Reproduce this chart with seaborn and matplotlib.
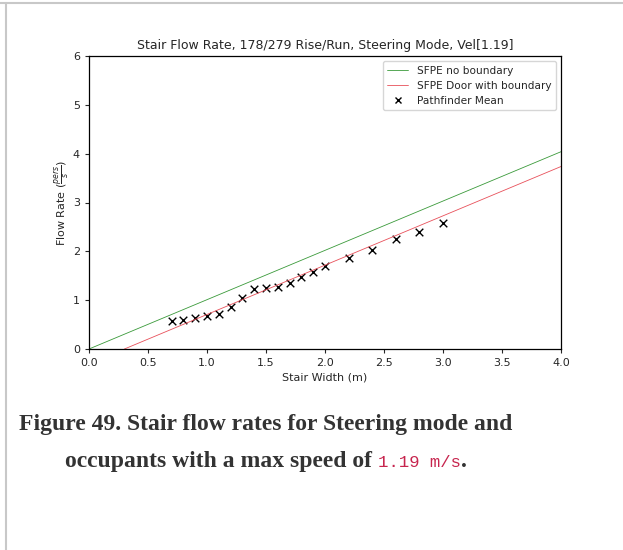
import matplotlib
matplotlib.use("Agg")
import matplotlib.pyplot as plt
import seaborn as sns
import pandas as pd
from matplotlib.lines import Line2D

# -----------------------------
# Data
# -----------------------------
stair_width = [0.7, 0.8, 0.9, 1.0, 1.1, 1.2, 1.3, 1.4, 1.5, 1.6,
               1.7, 1.8, 1.9, 2.0, 2.2, 2.4, 2.6, 2.8, 3.0]
pathfinder_mean = [0.575, 0.59, 0.64, 0.68, 0.72, 0.855, 1.04, 1.225, 1.245, 1.265,
                   1.355, 1.48, 1.58, 1.70, 1.855, 2.03, 2.25, 2.40, 2.57]

sfpe_width = [0.0, 4.0]
sfpe_no_boundary = [0.0, 4.04]
sfpe_door_width = [0.3, 4.0]
sfpe_door_boundary = [0.0, 3.737]

title = "Stair Flow Rate, 178/279 Rise/Run, Steering Mode, Vel[1.19]"
caption_line1 = "Figure 49. Stair flow rates for Steering mode and"
caption_line2 = ["occupants with a max speed of ", "1.19 m/s", "."]

# -----------------------------
# Figure
# -----------------------------
sns.set_style("ticks")
plt.rcParams["font.family"] = ["DejaVu Sans"]

W, H = 623, 550
fig = plt.figure(figsize=(W / 100, H / 100), dpi=100)
ax = fig.add_axes([89 / W, 1 - 349 / H, (561 - 89) / W, (349 - 56) / H])

df_pf = pd.DataFrame({"width": stair_width, "flow": pathfinder_mean})

ax.plot(sfpe_width, sfpe_no_boundary, color="#3a9a3a", lw=0.6, label="SFPE no boundary")
ax.plot(sfpe_door_width, sfpe_door_boundary, color="#e8505a", lw=0.6, label="SFPE Door with boundary")
sns.scatterplot(data=df_pf, x="width", y="flow", marker="x", color="black", s=30,
                linewidth=1.0, ax=ax, legend=False)

ax.set_xlim(0, 4)
ax.set_ylim(0, 6)
ax.set_xticks([0, 0.5, 1.0, 1.5, 2.0, 2.5, 3.0, 3.5, 4.0])
ax.tick_params(labelsize=8, length=3, width=0.8)
ax.set_title(title, fontsize=9.0, pad=5)
ax.set_xlabel("Stair Width (m)", fontsize=8, labelpad=3)
ax.set_ylabel(r"Flow Rate ($\frac{pers}{s}$)", fontsize=8, labelpad=1)
for sp in ax.spines.values():
    sp.set_linewidth(0.9)
    sp.set_color("black")

handles, labels = ax.get_legend_handles_labels()
handles.append(Line2D([], [], ls="none", marker="x", color="black", markersize=5, mew=1.0))
labels.append("Pathfinder Mean")
ax.legend(handles, labels, loc="upper right", fontsize=7.6, frameon=True, handlelength=2.0)

# -----------------------------
# Page border + caption
# -----------------------------
fig.add_artist(Line2D([0, 1], [1 - 2.5 / H, 1 - 2.5 / H], transform=fig.transFigure,
                      color="#c8c8c8", lw=1.5))
fig.add_artist(Line2D([5.8 / W, 5.8 / W], [0, 1 - 2.5 / H], transform=fig.transFigure,
                      color="#c8c8c8", lw=1.5))

cap_center = 266
serif = dict(family="Liberation Serif", weight="bold", fontsize=17, color="#333333")
fig.text(cap_center / W, 1 - 430 / H, caption_line1, ha="center", va="baseline", **serif)

renderer = fig.canvas.get_renderer()
styles = [serif,
          dict(family="Liberation Mono", fontsize=12.5, color="#c7254e"),
          serif]
parts = [fig.text(0, 1 - 467 / H, s, ha="left", va="baseline", **st)
         for s, st in zip(caption_line2, styles)]
widths = [p.get_window_extent(renderer).width for p in parts]
x = cap_center - sum(widths) / 2
for p, w in zip(parts, widths):
    p.set_x(x / W)
    x += w

fig.savefig("out.png", dpi=100)
